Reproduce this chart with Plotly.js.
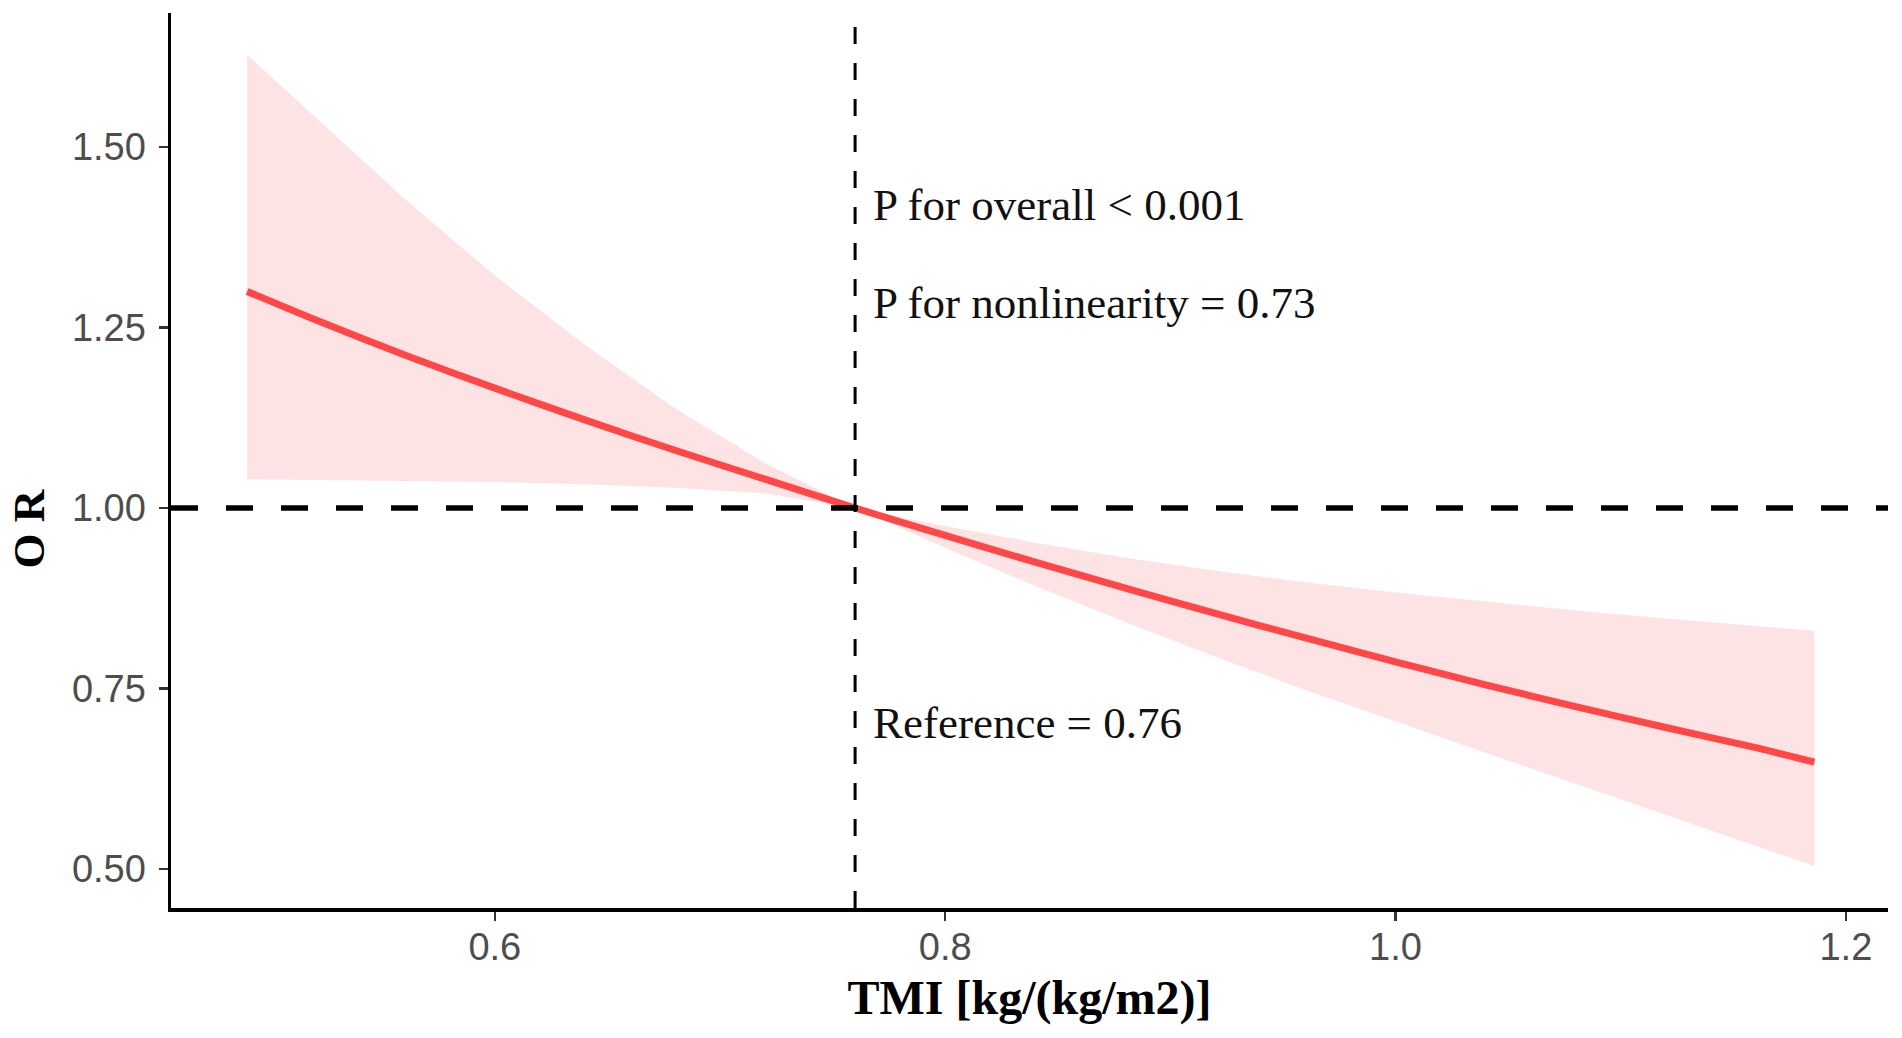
<!DOCTYPE html>
<html>
<head>
<meta charset="utf-8">
<script src="https://cdn.plot.ly/plotly-3.0.1.min.js"></script>
<style>
  html, body { margin: 0; padding: 0; background: #ffffff; }
  #chart { width: 1902px; height: 1038px; }
</style>
</head>
<body>
<div id="chart"></div>
<script>
// ---- data ----
const tmi     = [0.490, 0.52, 0.56, 0.60, 0.64, 0.68, 0.72, 0.76, 0.80, 0.84, 0.88, 0.92, 0.96, 1.00, 1.04, 1.08, 1.12, 1.16, 1.186];
const orVal   = [1.300, 1.261, 1.212, 1.166, 1.122, 1.080, 1.040, 1.000, 0.962, 0.925, 0.889, 0.854, 0.820, 0.787, 0.755, 0.725, 0.696, 0.668, 0.648];
const orUpper = [1.628, 1.542, 1.428, 1.322, 1.226, 1.138, 1.062, 1.000, 0.975, 0.952, 0.931, 0.913, 0.897, 0.883, 0.870, 0.858, 0.847, 0.837, 0.830];
const orLower = [1.040, 1.039, 1.038, 1.036, 1.033, 1.028, 1.020, 1.000, 0.945, 0.892, 0.842, 0.794, 0.748, 0.704, 0.661, 0.618, 0.575, 0.532, 0.504];

const refTMI = 0.76;   // reference value (vertical dashed line)
const refOR  = 1.00;   // OR = 1 (horizontal dashed line)

const xTicks = [0.6, 0.8, 1.0, 1.2];
const xTickText = ['0.6', '0.8', '1.0', '1.2'];
const yTicks = [0.50, 0.75, 1.00, 1.25, 1.50];
const yTickText = ['0.50', '0.75', '1.00', '1.25', '1.50'];

const annoText = ['P for overall &lt; 0.001', 'P for nonlinearity = 0.73', 'Reference = 0.76'];
const annoY = [1.420, 1.284, 0.702];

// ---- traces ----
const traces = [
  { x: tmi, y: orUpper, type: 'scatter', mode: 'lines',
    line: { width: 0, color: 'rgba(0,0,0,0)' }, hoverinfo: 'skip', showlegend: false },
  { x: tmi, y: orLower, type: 'scatter', mode: 'lines', fill: 'tonexty',
    fillcolor: '#FDE3E3', line: { width: 0, color: 'rgba(0,0,0,0)' }, hoverinfo: 'skip', showlegend: false },
  { x: tmi, y: orVal, type: 'scatter', mode: 'lines',
    line: { width: 7, color: '#FF4747', shape: 'spline', smoothing: 0.8 }, showlegend: false }
];

const serif = 'Liberation Serif, Times New Roman, serif';
const sans = 'Liberation Sans, Arial, sans-serif';

const layout = {
  width: 1902, height: 1038,
  margin: { l: 171, r: 14, t: 13, b: 130 },
  paper_bgcolor: '#ffffff', plot_bgcolor: '#ffffff',
  showlegend: false,
  xaxis: {
    range: [0.4562, 1.2187],
    tickvals: xTicks, ticktext: xTickText,
    showgrid: false, zeroline: false,
    showline: true, linecolor: '#000000', linewidth: 3.5,
    ticks: 'outside', ticklen: 9, tickwidth: 2.5, tickcolor: '#333333',
    ticklabelstandoff: -6,
    tickfont: { family: sans, size: 38, color: '#4D4D4D' },
    title: { text: '<b>TMI [kg/(kg/m2)]</b>', font: { family: serif, size: 48, color: '#000000' }, standoff: 14 }
  },
  yaxis: {
    range: [0.446, 1.6856],
    tickvals: yTicks, ticktext: yTickText,
    showgrid: false, zeroline: false,
    showline: true, linecolor: '#000000', linewidth: 3.5,
    ticks: 'outside', ticklen: 9, tickwidth: 2.5, tickcolor: '#333333',
    ticklabelstandoff: 5,
    tickfont: { family: sans, size: 38, color: '#4D4D4D' }
  },
  shapes: [
    { type: 'line', xref: 'paper', x0: 0, x1: 1, yref: 'y', y0: refOR, y1: refOR,
      line: { color: '#000000', width: 5.5, dash: '27px,28px' } },
    { type: 'line', xref: 'x', x0: refTMI, x1: refTMI, yref: 'paper', y0: 0, y1: 1,
      line: { color: '#000000', width: 3, dash: '17px,19px' } }
  ],
  annotations: annoText.map((t, i) => ({
    text: t, xref: 'x', yref: 'y', x: refTMI + 0.0070, y: annoY[i],
    xanchor: 'left', yanchor: 'middle', showarrow: false,
    font: { family: serif, size: 45, color: '#111111' }
  })).concat([{
    text: '<b>O R</b>', xref: 'paper', yref: 'paper', x: -0.083, y: 0.4235,
    xanchor: 'center', yanchor: 'middle', showarrow: false, textangle: -90,
    font: { family: serif, size: 45, color: '#000000' }
  }])
};

Plotly.newPlot('chart', traces, layout, { displayModeBar: false, staticPlot: true });
</script>
</body>
</html>
